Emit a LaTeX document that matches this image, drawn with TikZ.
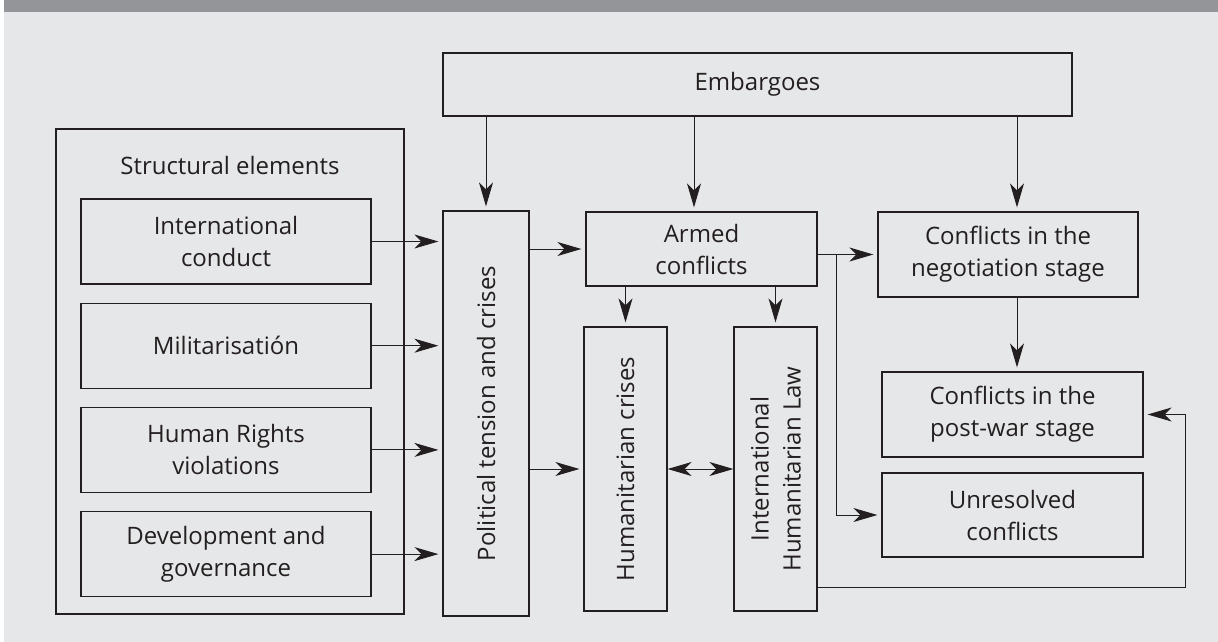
\documentclass[tikz,border=0pt]{standalone}
\usepackage{fontspec}
\setmainfont{Open Sans}
\usepackage{tikz}
\usetikzlibrary{positioning, arrows.meta}
\definecolor{bandgray}{HTML}{939598}
\definecolor{panel}{HTML}{E6E7E8}
\definecolor{ink}{HTML}{231F20}

\begin{document}
\begin{tikzpicture}[
  x=1pt, y=-1pt,
  every node/.style={font=\fontsize{24}{32}\selectfont, text=ink},
  box/.style={draw=ink, line width=1.2pt, inner sep=0pt, align=center},
  smallbox/.style={box, minimum width=290, minimum height=85},
  vlabel/.style={rotate=90, align=center},
  arrow/.style={-{Stealth[length=24pt, width=14pt, inset=7pt]}, ink, line width=1pt, shorten >=4pt},
  biarrow/.style={{Stealth[length=24pt, width=14pt, inset=7pt]}-{Stealth[length=24pt, width=14pt, inset=7pt]}, ink, line width=1pt}
]
  \useasboundingbox (0,0) rectangle (1218,642);
  \fill[white] (0,0) rectangle (1218,642);
  \fill[panel] (4,0) rectangle (1218,642);
  \fill[bandgray] (4,0) rectangle (1218,12);

  % top and left blocks
  \node[box, minimum width=629, minimum height=63] (emb) at (757.5,84.5) {Embargoes};
  \node[box, minimum width=348, minimum height=485] (struct) at (230,371.5) {};
  \node[anchor=base] (structlbl) at (230,174) {Structural elements};
  \node[smallbox] (intl) at (226,241.5) {International\\conduct};
  \node[smallbox, below=18pt of intl] (milit) {Militarisatión};
  \node[smallbox, below=18pt of milit] (hr) {Human Rights\\violations};
  \node[smallbox, below=18pt of hr] (devgov) {Development and\\governance};

  % middle columns
  \node[box, minimum width=86, minimum height=405] (pol) at (486,413.5) {};
  \node[vlabel] (pollbl) at (pol.center) {Political tension and crises};
  \node[box, minimum width=231, minimum height=74] (armed) at (701.5,249) {Armed\\conflicts};
  \node[box, minimum width=83, minimum height=284] (humc) at (625.5,469) {};
  \node[vlabel] (humclbl) at (humc.center) {Humanitarian crises};
  \node[box, minimum width=83, minimum height=284] (ihl) at (775.5,469) {};
  \node[vlabel] (ihllbl) at (ihl.center) {International\\Humanitarian Law};

  % right column
  \node[box, minimum width=260, minimum height=85] (nego) at (1008,254.5) {Conflicts in the\\negotiation stage};
  \node[box, minimum width=261, minimum height=85] (postwar) at (1012.5,414.5) {Conflicts in the\\post-war stage};
  \node[box, minimum width=261, minimum height=84] (unres) at (1012.5,515) {Unresolved\\conflicts};

  \coordinate (armtop) at ([xshift=-7.5pt]armed.north);
  \coordinate (negtop) at ([xshift=9pt]nego.north);
  \coordinate (split) at ([xshift=19pt]armed.east |- nego.west);

  % embargoes
  \draw[arrow] (pol.north |- emb.south) -- (pol.north);
  \draw[arrow] (armtop |- emb.south) -- (armtop);
  \draw[arrow] (negtop |- emb.south) -- (negtop);

  % structural elements into the tension column
  \foreach \n in {intl,milit,hr,devgov}
    \draw[arrow] (\n.east) -- (\n.east -| pol.west);

  \draw[arrow] (pol.east |- armed.west) -- (armed.west);
  \draw[arrow] (pol.east |- humc.west) -- (humc.west);
  \draw[arrow] (humc.north |- armed.south) -- (humc.north);
  \draw[arrow] (ihl.north |- armed.south) -- (ihl.north);
  \draw[biarrow] (humc.east) -- (ihl.west);
  \draw[arrow] (armed.east |- nego.west) -- (nego.west);
  \draw[arrow] (split) |- (unres.west);
  \draw[arrow] (negtop |- nego.south) -- (negtop |- postwar.north);
  \draw[arrow] ([yshift=24pt]ihl.south east) -- ++(368,0) |- (postwar.east);
\end{tikzpicture}
\end{document}
